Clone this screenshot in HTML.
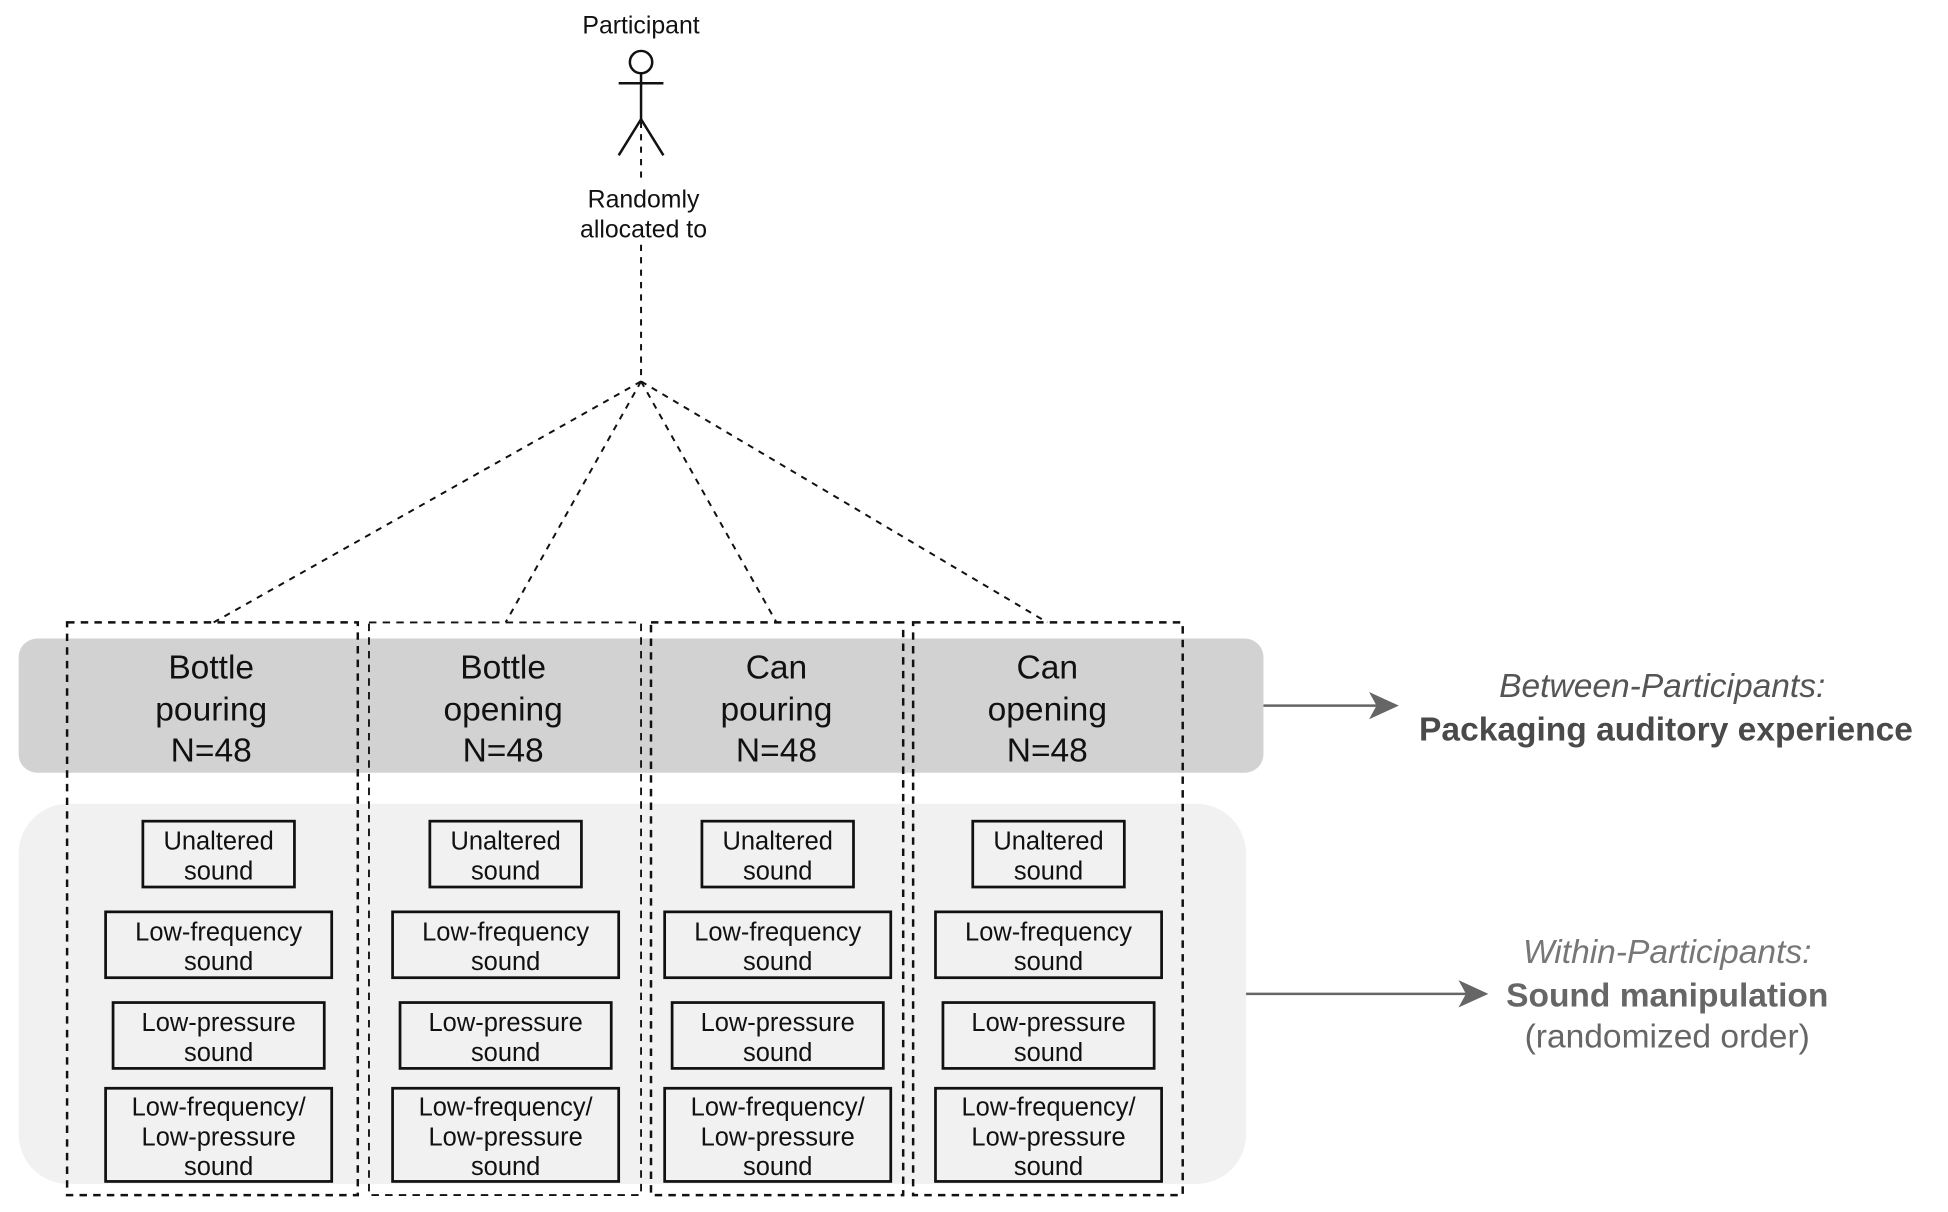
<!DOCTYPE html>
<html><head><meta charset="utf-8"><style>html,body{margin:0;padding:0;background:#fff}svg{display:block}text{font-family:"Liberation Sans",Arial,sans-serif}</style></head>
<body>
<svg width="1948" height="1212" viewBox="0 0 1568 975.6" preserveAspectRatio="none" xmlns="http://www.w3.org/2000/svg">
<rect x="15" y="514" width="1002" height="108" rx="15" fill="#d2d2d2"/>
<rect x="15" y="647" width="988" height="306" rx="40" fill="#f1f1f1"/>
<g stroke="#111" stroke-width="2" fill="none">
<circle cx="516" cy="50" r="9"/>
<line x1="498" y1="67" x2="534" y2="67"/>
<line x1="516" y1="59" x2="516" y2="96"/>
<polyline points="498,125 516,96 534,125"/>
</g>
<g stroke="#111" stroke-width="1.6" fill="none" stroke-dasharray="5,5">
<line x1="516" y1="98" x2="516" y2="148"/>
<line x1="516" y1="197" x2="516" y2="307"/>
<line x1="516" y1="307" x2="172" y2="501"/>
<line x1="516" y1="307" x2="407" y2="501"/>
<line x1="516" y1="307" x2="625" y2="501"/>
<line x1="516" y1="307" x2="843" y2="501"/>
</g>
<g stroke="#111" stroke-width="2" fill="none" stroke-dasharray="6,5">
<rect x="54" y="501" width="234" height="461"/>
<rect x="297" y="501" width="219" height="461" stroke-width="1.5"/>
<rect x="524" y="501" width="203" height="461"/>
<rect x="735" y="501" width="217" height="461"/>
</g>
<g font-size="20" text-anchor="middle" fill="#111">
<text x="516" y="27">Participant</text>
<text x="518" y="167">Randomly</text>
<text x="518" y="191">allocated to</text>
</g>
<g font-size="27" text-anchor="middle" fill="#111">
<text x="170" y="546">Bottle</text><text x="170" y="580">pouring</text><text x="170" y="613">N=48</text>
<text x="405" y="546">Bottle</text><text x="405" y="580">opening</text><text x="405" y="613">N=48</text>
<text x="625" y="546">Can</text><text x="625" y="580">pouring</text><text x="625" y="613">N=48</text>
<text x="843" y="546">Can</text><text x="843" y="580">opening</text><text x="843" y="613">N=48</text>
</g>
<g id="c1" stroke="#111" stroke-width="2.2" fill="none">
<rect x="115" y="661" width="122" height="53"/>
<rect x="85" y="734" width="182" height="53"/>
<rect x="91" y="807" width="170" height="53"/>
<rect x="85" y="876" width="182" height="75"/>
</g>
<use href="#c1" x="231"/>
<use href="#c1" x="450"/>
<use href="#c1" x="668"/>
<g id="t1" font-size="20.5" text-anchor="middle" fill="#111">
<text x="176" y="684">Unaltered</text><text x="176" y="708">sound</text>
<text x="176" y="757">Low-frequency</text><text x="176" y="781">sound</text>
<text x="176" y="830">Low-pressure</text><text x="176" y="854">sound</text>
<text x="176" y="898">Low-frequency/</text><text x="176" y="922">Low-pressure</text><text x="176" y="946">sound</text>
</g>
<use href="#t1" x="231"/>
<use href="#t1" x="450"/>
<use href="#t1" x="668"/>
<g stroke="#666" stroke-width="2">
<line x1="1017" y1="568" x2="1110" y2="568"/>
<line x1="1003" y1="800" x2="1184" y2="800"/>
</g>
<polygon points="1126,568 1102,557 1108,568 1102,579" fill="#666"/>
<polygon points="1198,800 1174,789 1180,800 1174,811" fill="#666"/>
<g font-size="27" text-anchor="middle" fill="#555">
<text x="1338" y="561" font-style="italic">Between-Participants:</text>
<text x="1341" y="596" font-weight="bold" fill="#4a4a4a">Packaging auditory experience</text>
<text x="1342" y="775" font-style="italic" fill="#777">Within-Participants:</text>
<text x="1342" y="810" font-weight="bold" fill="#666">Sound manipulation</text>
<text x="1342" y="843" fill="#666">(randomized order)</text>
</g>
</svg>
</body></html>
